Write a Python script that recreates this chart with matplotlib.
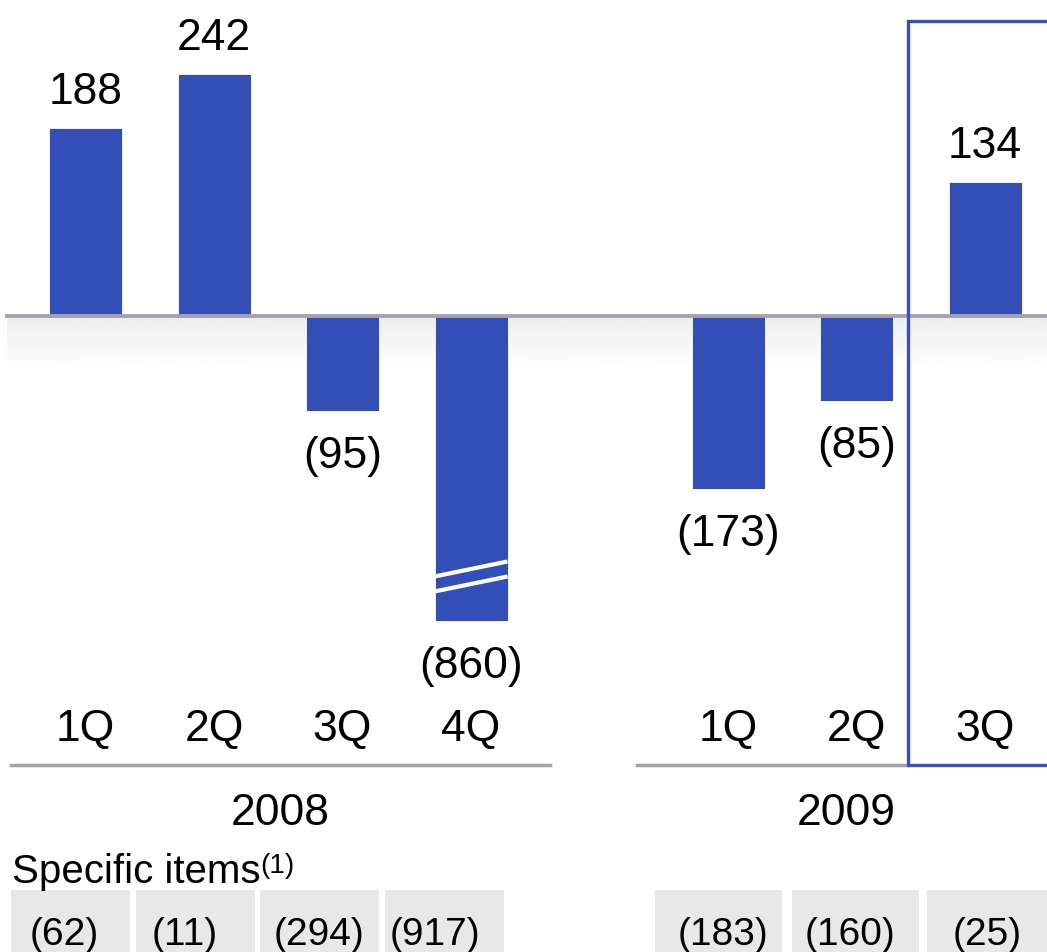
import numpy as np
import matplotlib.pyplot as plt
from matplotlib.patches import Rectangle

# data
quarters = ['1Q', '2Q', '3Q', '4Q', '1Q', '2Q', '3Q']
net_income = [188, 242, -95, -860, -173, -85, 134]
specific_items = [-62, -11, -294, -917, -183, -160, -25]
years = ['2008', '2009']

# layout (slot index per bar, one empty slot between years)
slots = [0, 1, 2, 3, 5, 6, 7]
W, H = 1047, 952
X0, PITCH, BASE = 85.5, 128.5, 315.5
CLIP = -305  # 4Q 2008 is drawn as a broken bar
BLUE = '#344eb8'
BOX_BLUE = '#3550c0'
LINE_GRAY = '#a3a3ad'
CELL_GRAY = '#e8e8e8'
year_x = [280, 846]
cell_edges = [(11, 130), (136, 255), (260, 379), (385, 504),
              (655, 782), (792, 919), (927, 1047)]
cell_text_x = [64.5, 185, 318.5, 435, 723, 850, 987.5]


def px(x):
    return (x - X0) / PITCH


def py(y):
    return BASE - y


def fmt(v):
    return f'({abs(v)})' if v < 0 else str(v)


plt.rcParams['font.family'] = ['Liberation Sans', 'DejaVu Sans']
fig = plt.figure(figsize=(W / 100, H / 100), dpi=100)
ax = fig.add_axes([0, 0, 1, 1])
ax.axis('off')

# soft shadow under the zero line
grad = np.linspace(0.895, 1.0, 64).reshape(-1, 1) ** 0.6
ax.imshow(grad, cmap='gray', vmin=0, vmax=1, aspect='auto', interpolation='bicubic',
          extent=(px(7), px(W), py(372), py(317)), zorder=0)

shown = [max(v, CLIP) for v in net_income]
bar_w = 73 / PITCH
ax.bar(slots, shown, width=bar_w, color=BLUE, edgecolor='white', linewidth=0.6, zorder=2)
ax.plot([px(7), px(W)], [0, 0], color=LINE_GRAY, lw=2.8, zorder=3)

# break marks on the clipped bar
for s, v, d in zip(slots, net_income, shown):
    if v < d:
        for off in (44, 29):
            ax.plot([s - bar_w / 2, s + bar_w / 2], [d + off, d + off + 15],
                    color='white', lw=3, solid_capstyle='butt', zorder=3)

for s, v, d in zip(slots, net_income, shown):
    y = d + 23.5 if v >= 0 else d - 57.5
    ax.text(s, y, fmt(v), ha='center', va='baseline', fontsize=32, zorder=5)

for s, q in zip(slots, quarters):
    ax.text(s, py(741), q, ha='center', va='baseline', fontsize=32)

ax.plot([px(11), px(550)], [py(765)] * 2, color=LINE_GRAY, lw=2.5)
ax.plot([px(637), px(908)], [py(765)] * 2, color=LINE_GRAY, lw=2.5)
for yr, x in zip(years, year_x):
    ax.text(px(x), py(825), yr, ha='center', va='baseline', fontsize=32)

# highlight box around latest quarter
ax.plot([px(1060), px(908), px(908), px(1060)], [py(21), py(21), py(765), py(765)],
        color=BOX_BLUE, lw=2.4, solid_joinstyle='miter', zorder=4)

lbl = ax.text(px(12), py(883), 'Specific items', ha='left', va='baseline', fontsize=29)
ax.annotate('(1)', xy=(1, 0), xycoords=lbl, xytext=(0, 13), textcoords='offset points',
            ha='left', va='baseline', fontsize=20)

for (a, b), tx, v in zip(cell_edges, cell_text_x, specific_items):
    ax.add_patch(Rectangle((px(a), py(H)), px(b) - px(a), py(890) - py(H),
                           facecolor=CELL_GRAY, edgecolor='none', zorder=1))
    ax.text(px(tx), py(945), fmt(v), ha='center', va='baseline', fontsize=28, zorder=2)

ax.set_xlim(px(0), px(W))
ax.set_ylim(py(H), py(0))
fig.savefig('out.png', dpi=100)
